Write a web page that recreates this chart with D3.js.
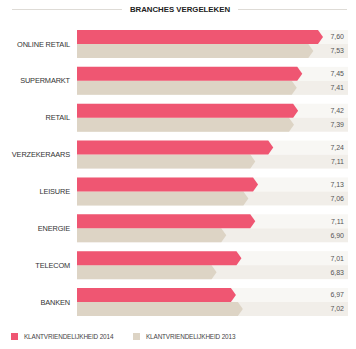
<!DOCTYPE html>
<html>
<head>
<meta charset="utf-8">
<script src="https://cdn.jsdelivr.net/npm/d3@7"></script>
<style>
  body { margin: 0; background: #fff; }
  svg { display: block; font-family: "Liberation Sans", Arial, sans-serif; }
</style>
</head>
<body>
<svg width="356" height="349"></svg>
<script>
let svg = d3.select("svg");
let width = +svg.attr("width");

const branches = ["ONLINE RETAIL", "SUPERMARKT", "RETAIL", "VERZEKERAARS", "LEISURE", "ENERGIE", "TELECOM", "BANKEN"];
const score2014 = [7.60, 7.45, 7.42, 7.24, 7.13, 7.11, 7.01, 6.97];
const score2013 = [7.53, 7.41, 7.39, 7.11, 7.06, 6.90, 6.83, 7.02];
const seriesNames = ["KLANTVRIENDELIJKHEID 2014", "KLANTVRIENDELIJKHEID 2013"];

const pink = "#ef5672", beige = "#ddd4c5";
const barLeft = 77, panelRight = 348, tip = 5;

let fmt = v => d3.format(".2f")(v).replace(".", ",");

let x = d3.scaleLinear().domain([5.82, 7.60]).range([barLeft, 323]);
let y = d3.scaleBand().domain(branches).range([30, 316]).paddingInner(0.24);
let half = y.bandwidth() / 2;

// title with rules either side
let title = svg.append("text")
    .attr("x", width / 2 + 2).attr("y", 12)
    .attr("text-anchor", "middle")
    .style("font-size", "7.8px").style("font-weight", "bold").style("fill", "#222")
    .text("BRANCHES VERGELEKEN");
let tw = title.node().getComputedTextLength();
svg.append("line").attr("x1", 12).attr("x2", width / 2 + 2 - tw / 2 - 8)
    .attr("y1", 9.5).attr("y2", 9.5).style("stroke", "#d6d2cc").style("stroke-width", 0.8);
svg.append("line").attr("x1", width / 2 + 2 + tw / 2 + 8).attr("x2", 347)
    .attr("y1", 9.5).attr("y2", 9.5).style("stroke", "#d6d2cc").style("stroke-width", 0.8);

let rows = branches.map((b, i) => ({ name: b, v14: score2014[i], v13: score2013[i] }));

let group = svg.append("g").selectAll("g")
  .data(rows)
  .enter().append("g")
    .attr("transform", d => `translate(0,${y(d.name)})`);

// background panels
group.append("rect")
    .attr("x", barLeft).attr("width", panelRight - barLeft)
    .attr("y", 0).attr("height", half).style("fill", "#f8f7f4");
group.append("rect")
    .attr("x", barLeft).attr("width", panelRight - barLeft)
    .attr("y", half).attr("height", half).style("fill", "#f1eee9");

// arrow-shaped bar ending at the value
let arrow = (v, y0, h) => {
  let xe = x(v);
  return `M${barLeft},${y0}H${xe - tip}L${xe},${y0 + h / 2}L${xe - tip},${y0 + h}H${barLeft}Z`;
};
group.append("path").attr("d", d => arrow(d.v13, half, half)).style("fill", beige);
group.append("path").attr("d", d => arrow(d.v14, 0, half)).style("fill", pink);

group.append("text")
    .attr("x", 70).attr("y", half).attr("dy", "0.35em")
    .attr("text-anchor", "end")
    .style("font-size", "7.4px").style("fill", "#333").style("letter-spacing", "-0.15px")
    .text(d => d.name);

group.append("text")
    .attr("x", 344).attr("y", half / 2).attr("dy", "0.35em")
    .attr("text-anchor", "end")
    .style("font-size", "7px").style("fill", "#555")
    .text(d => fmt(d.v14));
group.append("text")
    .attr("x", 344).attr("y", half * 1.5).attr("dy", "0.35em")
    .attr("text-anchor", "end")
    .style("font-size", "7px").style("fill", "#555")
    .text(d => fmt(d.v13));

// legend
let legend = svg.append("g").selectAll("g")
  .data(seriesNames)
  .enter().append("g")
    .attr("transform", (d, i) => `translate(${i ? 133 : 11},333)`);
legend.append("rect").attr("width", 7).attr("height", 7)
    .style("fill", (d, i) => i ? beige : pink);
legend.append("text")
    .attr("x", 13).attr("y", 3.5).attr("dy", "0.35em")
    .style("font-size", "6.4px").style("fill", "#444").style("letter-spacing", "-0.15px")
    .text(d => d);
</script>
</body>
</html>
